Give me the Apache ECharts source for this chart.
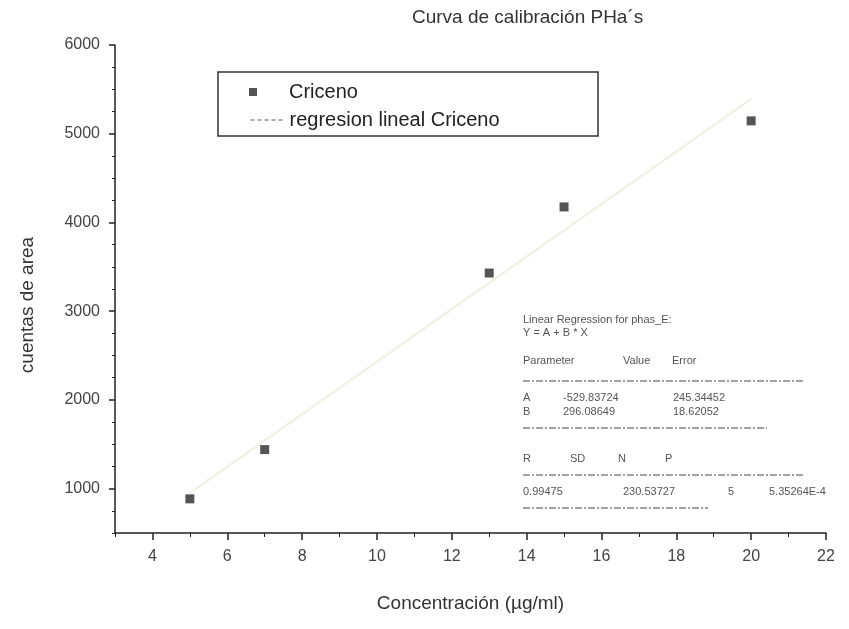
<!DOCTYPE html>
<html>
<head>
<meta charset="utf-8">
<script src="https://cdn.jsdelivr.net/npm/echarts@6/dist/echarts.min.js"></script>
<style>
  html, body { margin: 0; padding: 0; background: #ffffff; }
  #chart { width: 849px; height: 629px; }
</style>
</head>
<body>
<div id="chart"></div>
<script>
// Calibration data for chrysene (Criceno)
const concentracion = [5, 7, 13, 15, 20];          // µg/ml
const cuentasArea   = [885, 1440, 3430, 4175, 5145];

// Linear fit Y = A + B * X
const fitA = -529.83724, fitAErr = 245.34452;
const fitB = 296.08649,  fitBErr = 18.62052;
const fitR = '0.99475', fitSD = '230.53727', fitN = 5, fitP = '5.35264E-4';

// Axis ticks
const xMajor = [4, 6, 8, 10, 12, 14, 16, 18, 20, 22];
const xMinor = [3, 5, 7, 9, 11, 13, 15, 17, 19, 21];
const yMajor = [1000, 2000, 3000, 4000, 5000, 6000];
const yMinor = [500, 750, 1250, 1500, 1750, 2250, 2500, 2750, 3250, 3500, 3750,
                4250, 4500, 4750, 5250, 5500, 5750];

const FONT = '"Liberation Sans", Arial, sans-serif';
const scatterData = concentracion.map((x, i) => [x, cuentasArea[i]]);
const xFit = [Math.min(...concentracion), Math.max(...concentracion)];
const fitData = xFit.map(x => [x, fitA + fitB * x]);

const chart = echarts.init(document.getElementById('chart'), null, { renderer: 'canvas' });

// Regression report printed inside the plot
const rx = 523;
const txt = (x, y, s) => ({
  type: 'text', x: x, y: y,
  style: { text: s, font: '11px ' + FONT, fill: '#555', verticalAlign: 'middle' }
});
const rule = (y, x2) => ({
  type: 'line', shape: { x1: rx, y1: y, x2: x2, y2: y },
  style: { stroke: '#444', lineWidth: 1, lineDash: [7, 2, 2, 2] }
});

const option = {
  backgroundColor: '#ffffff',
  animation: false,
  title: {
    text: 'Curva de calibración PHa´s',
    left: 407, top: 3,
    textStyle: { fontFamily: FONT, fontSize: 19, fontWeight: 'normal', color: '#333' }
  },
  grid: { left: 115, right: 23, top: 45, bottom: 96 },
  legend: [
    {
      data: ['Criceno'],
      left: 249, top: 82, padding: 0,
      itemWidth: 8, itemHeight: 8,
      textStyle: { fontFamily: FONT, fontSize: 20, color: '#222', padding: [0, 0, 0, 27] }
    },
    {
      data: ['regresion lineal Criceno'],
      left: 250, top: 110, padding: 0,
      itemWidth: 34, itemHeight: 12,
      itemStyle: { opacity: 0 },
      lineStyle: { color: '#555', type: [4, 3], width: 1 },
      textStyle: { fontFamily: FONT, fontSize: 20, color: '#222' }
    }
  ],
  xAxis: [
    {
      type: 'value', min: 3, max: 22,
      name: 'Concentración (µg/ml)', nameLocation: 'middle', nameGap: 61,
      nameTextStyle: { fontFamily: FONT, fontSize: 19, color: '#333' },
      axisLine: { show: true, onZero: false, lineStyle: { color: '#222', width: 1.5 } },
      axisTick: { show: true, customValues: xMajor, length: 7, lineStyle: { color: '#222', width: 1.5 } },
      axisLabel: { customValues: xMajor, margin: 16, fontFamily: FONT, fontSize: 16, color: '#444' },
      splitLine: { show: false }
    },
    {
      type: 'value', min: 3, max: 22, position: 'bottom',
      axisLine: { show: false },
      axisTick: { show: true, customValues: xMinor, length: 4, lineStyle: { color: '#222', width: 1 } },
      axisLabel: { show: false },
      splitLine: { show: false }
    }
  ],
  yAxis: [
    {
      type: 'value', min: 500, max: 6000,
      name: 'cuentas de area', nameLocation: 'middle', nameGap: 78,
      nameTextStyle: { fontFamily: FONT, fontSize: 19, color: '#333', padding: [0, 32, 0, 0] },
      axisLine: { show: true, onZero: false, lineStyle: { color: '#222', width: 1.5 } },
      axisTick: { show: true, customValues: yMajor, length: 6, lineStyle: { color: '#222', width: 1.5 } },
      axisLabel: {
        customValues: yMajor, margin: 15, fontFamily: FONT, fontSize: 16, color: '#444',
        formatter: v => String(v)
      },
      splitLine: { show: false }
    },
    {
      type: 'value', min: 500, max: 6000, position: 'left',
      axisLine: { show: false },
      axisTick: { show: true, customValues: yMinor, length: 3, lineStyle: { color: '#222', width: 1 } },
      axisLabel: { show: false },
      splitLine: { show: false }
    }
  ],
  series: [
    {
      name: 'regresion lineal Criceno',
      type: 'line',
      data: fitData,
      symbol: 'none',
      itemStyle: { color: '#555' },
      lineStyle: { color: '#f2f1e3', width: 2.5 },
      z: 1
    },
    {
      name: 'Criceno',
      type: 'scatter',
      data: scatterData,
      symbol: 'rect',
      symbolSize: 9,
      itemStyle: { color: '#2b2b2b' },
      z: 3
    }
  ],
  graphic: [
    {
      type: 'rect',
      shape: { x: 218, y: 72, width: 380, height: 64 },
      style: { fill: 'none', stroke: '#333', lineWidth: 1.5 },
      z: 10
    },
    {
      type: 'group', z: 10,
      children: [
        txt(rx, 320, 'Linear Regression for phas_E:'),
        txt(rx, 333, 'Y = A + B * X'),
        txt(rx, 361, 'Parameter'), txt(623, 361, 'Value'), txt(672, 361, 'Error'),
        rule(381, 803),
        txt(rx, 398, 'A'), txt(563, 398, fitA.toFixed(5)), txt(673, 398, fitAErr.toFixed(5)),
        txt(rx, 412, 'B'), txt(563, 412, fitB.toFixed(5)), txt(673, 412, fitBErr.toFixed(5)),
        rule(428, 767),
        txt(rx, 459, 'R'), txt(570, 459, 'SD'), txt(618, 459, 'N'), txt(665, 459, 'P'),
        rule(475, 803),
        txt(rx, 492, fitR), txt(623, 492, fitSD), txt(728, 492, String(fitN)), txt(769, 492, fitP),
        rule(508, 708)
      ]
    }
  ]
};

chart.setOption(option);
</script>
</body>
</html>
